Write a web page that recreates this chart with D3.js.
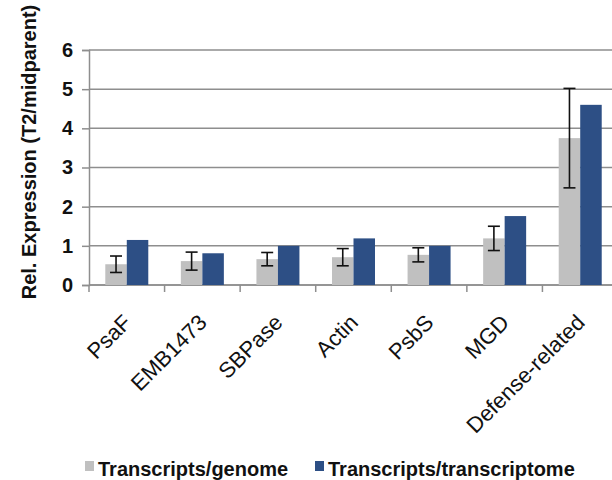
<!DOCTYPE html>
<html>
<head>
<meta charset="utf-8">
<script src="https://cdn.jsdelivr.net/npm/d3@7"></script>
<style>
  html, body { margin: 0; padding: 0; background: #fff; }
  svg { display: block; font-family: "Liberation Sans", Arial, sans-serif; }
</style>
</head>
<body>
<svg id="chart" width="612" height="480"></svg>
<script>
// Relative expression of selected transcripts
const categories = ["PsaF", "EMB1473", "SBPase", "Actin", "PsbS", "MGD", "Defense-related"];
const genome = [0.53, 0.61, 0.66, 0.71, 0.77, 1.19, 3.75];
const genomeErr = [0.21, 0.23, 0.17, 0.22, 0.18, 0.31, 1.27];
const transcriptome = [1.15, 0.81, 1.0, 1.19, 1.0, 1.76, 4.6];
const yTicks = [0, 1, 2, 3, 4, 5, 6];
const seriesNames = ["Transcripts/genome", "Transcripts/transcriptome"];
const seriesColors = ["#c0c0c0", "#2d4f85"];

const svg = d3.select("#chart");
const plotLeft = 89, plotRight = 618, plotTop = 50, plotBottom = 285;

const x = d3.scaleBand().domain(categories).range([plotLeft, plotRight]).paddingInner(0).paddingOuter(0);
const y = d3.scaleLinear().domain([0, 6]).range([plotBottom, plotTop]);

// gridlines
svg.append("g")
  .selectAll("line")
  .data(yTicks)
  .join("line")
  .attr("x1", plotLeft).attr("x2", plotRight)
  .attr("y1", d => y(d)).attr("y2", d => y(d))
  .attr("stroke", "#8e8e8e").attr("stroke-width", 1.5);

// y axis
const yAxis = d3.axisLeft(y).tickValues(yTicks).tickSize(7).tickPadding(9).tickFormat(d3.format("d"));
const gy = svg.append("g").attr("transform", `translate(${plotLeft},0)`).call(yAxis);
gy.select(".domain").attr("stroke", "#8e8e8e").attr("stroke-width", 1.5);
gy.selectAll(".tick line").attr("stroke", "#8e8e8e").attr("stroke-width", 1.5);
gy.selectAll(".tick text")
  .attr("font-size", 20).attr("font-weight", "bold").attr("fill", "#111")
  .attr("font-family", "Liberation Sans, Arial, sans-serif");

// x axis line and category boundary ticks
svg.append("line")
  .attr("x1", plotLeft).attr("x2", plotRight)
  .attr("y1", plotBottom).attr("y2", plotBottom)
  .attr("stroke", "#8e8e8e").attr("stroke-width", 1.5);
svg.append("g")
  .selectAll("line")
  .data(categories)
  .join("line")
  .attr("x1", d => x(d)).attr("x2", d => x(d))
  .attr("y1", plotBottom).attr("y2", plotBottom + 7)
  .attr("stroke", "#8e8e8e").attr("stroke-width", 1.5);

// bars
const barW = 21.5;
const off = (x.bandwidth() - 2 * barW) / 2;
const groups = svg.append("g").selectAll("g")
  .data(categories)
  .join("g")
  .attr("transform", d => `translate(${x(d)},0)`);

groups.append("rect")
  .attr("x", off).attr("width", barW)
  .attr("y", (d, i) => y(genome[i]))
  .attr("height", (d, i) => y(0) - y(genome[i]))
  .attr("fill", seriesColors[0]);

groups.append("rect")
  .attr("x", off + barW).attr("width", barW)
  .attr("y", (d, i) => y(transcriptome[i]))
  .attr("height", (d, i) => y(0) - y(transcriptome[i]))
  .attr("fill", seriesColors[1]);

// error bars on the genome series
const cx = off + barW / 2, cap = 6;
groups.append("line")
  .attr("x1", cx).attr("x2", cx)
  .attr("y1", (d, i) => y(genome[i] + genomeErr[i]))
  .attr("y2", (d, i) => y(genome[i] - genomeErr[i]))
  .attr("stroke", "#111").attr("stroke-width", 1.6);
groups.append("line")
  .attr("x1", cx - cap).attr("x2", cx + cap)
  .attr("y1", (d, i) => y(genome[i] + genomeErr[i]))
  .attr("y2", (d, i) => y(genome[i] + genomeErr[i]))
  .attr("stroke", "#111").attr("stroke-width", 1.6);
groups.append("line")
  .attr("x1", cx - cap).attr("x2", cx + cap)
  .attr("y1", (d, i) => y(genome[i] - genomeErr[i]))
  .attr("y2", (d, i) => y(genome[i] - genomeErr[i]))
  .attr("stroke", "#111").attr("stroke-width", 1.6);

// category labels, rotated
svg.append("g")
  .selectAll("text")
  .data(categories)
  .join("text")
  .attr("transform", d => `translate(${x(d) + x.bandwidth() / 2 - 5},${plotBottom + 28}) rotate(-45)`)
  .attr("text-anchor", "end")
  .attr("dy", "0.7em")
  .attr("font-size", 22)
  .attr("fill", "#111")
  .text(d => d);

// y axis title
svg.append("text")
  .attr("transform", "translate(36,152) rotate(-90)")
  .attr("text-anchor", "middle")
  .attr("font-size", 20).attr("font-weight", "bold").attr("fill", "#111")
  .text("Rel. Expression (T2/midparent)");

// legend
const legendX = [85, 315];
const leg = svg.append("g").selectAll("g")
  .data(seriesNames)
  .join("g")
  .attr("transform", (d, i) => `translate(${legendX[i]},0)`);
leg.append("rect")
  .attr("x", 0).attr("y", 461).attr("width", 9).attr("height", 10)
  .attr("fill", (d, i) => seriesColors[i]);
leg.append("text")
  .attr("x", 13).attr("y", 476)
  .attr("font-size", 20).attr("font-weight", "bold").attr("fill", "#111")
  .text(d => d);
</script>
</body>
</html>
